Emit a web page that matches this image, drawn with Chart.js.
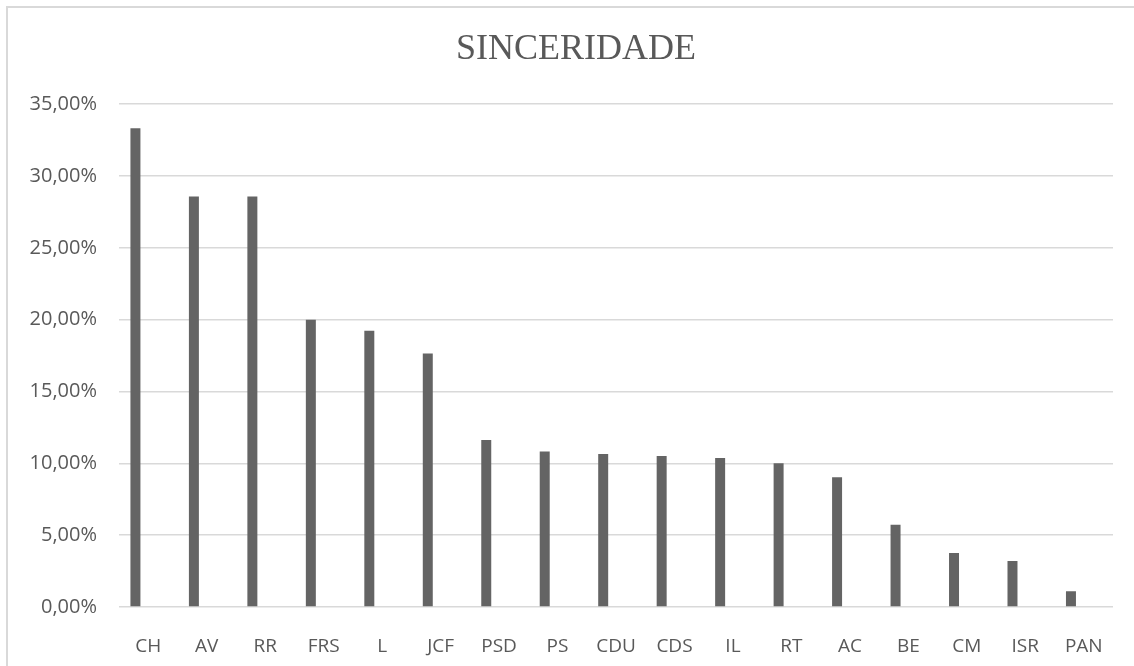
<!DOCTYPE html>
<html>
<head>
<meta charset="utf-8">
<script src="https://cdn.jsdelivr.net/npm/chart.js@4"></script>
<style>
  html, body { margin: 0; padding: 0; background: #fff; overflow: hidden; width: 1134px; height: 666px; }
  .frame {
    position: absolute; left: 6px; top: 6px;
    width: 1160px; height: 720px;
    border: 2px solid #d9d9d9;
  }
  #myChart { position: absolute; left: 0; top: 0; }
</style>
</head>
<body>
<div class="frame"></div>
<canvas id="myChart" width="1152" height="666"></canvas>
<script>
const ctx = document.getElementById('myChart')

// partidos e percentagens (sinceridade)
const categories = ['CH', 'AV', 'RR', 'FRS', 'L', 'JCF', 'PSD', 'PS', 'CDU', 'CDS', 'IL', 'RT', 'AC', 'BE', 'CM', 'ISR', 'PAN']
const values = [0.3333, 0.2857, 0.2857, 0.20, 0.1923, 0.1765, 0.1162, 0.1083, 0.1065, 0.1051, 0.1037, 0.10, 0.0903, 0.0573, 0.0376, 0.0320, 0.0109]
const yTicks = [0, 0.05, 0.10, 0.15, 0.20, 0.25, 0.30, 0.35]

const grey = '#595959'
const pct = (v) => (v * 100).toFixed(2).replace('.', ',') + '%'

new Chart(ctx, {
  type: 'bar',
  data: {
    labels: categories,
    datasets: [{
      label: 'Sinceridade',
      data: values,
      backgroundColor: '#646464',
      categoryPercentage: 0.876,
      barPercentage: 0.39
    }, {
      // serie vazia (como no Excel), ocupa o segundo lugar do grupo
      label: '',
      data: [],
      categoryPercentage: 0.876,
      barPercentage: 0.39
    }]
  },
  options: {
    responsive: false,
    animation: false,
    layout: {
      padding: { left: 0, right: 0, top: 28, bottom: 0 }
    },
    plugins: {
      legend: { display: false },
      tooltip: { enabled: false },
      title: {
        display: true,
        text: 'SINCERIDADE',
        color: grey,
        font: { family: '"Liberation Serif", "Times New Roman", serif', size: 36, weight: 'normal' },
        padding: { top: 0, bottom: 33 }
      }
    },
    scales: {
      x: {
        grid: { display: false },
        border: { display: false },
        ticks: {
          color: grey,
          padding: 20,
          maxRotation: 0,
          autoSkip: false,
          font: { family: '"Open Sans", sans-serif', size: 19 }
        },
        afterFit: (scale) => { scale.height = 59 }
      },
      y: {
        min: 0,
        max: 0.35,
        afterBuildTicks: (scale) => { scale.ticks = yTicks.map(v => ({ value: v })) },
        grid: { color: '#d9d9d9', lineWidth: 1.5, drawTicks: false },
        border: { display: false },
        ticks: {
          color: grey,
          padding: 22,
          font: { family: '"Open Sans", sans-serif', size: 20 },
          callback: (v) => pct(v)
        },
        afterFit: (scale) => { scale.width = 119 }
      },
      // margem direita vazia: o quadro do Excel passa para la da imagem
      y2: {
        position: 'right',
        grid: { display: false },
        border: { display: false },
        ticks: { display: false },
        afterFit: (scale) => { scale.width = 39 }
      }
    }
  }
})
</script>
</body>
</html>
